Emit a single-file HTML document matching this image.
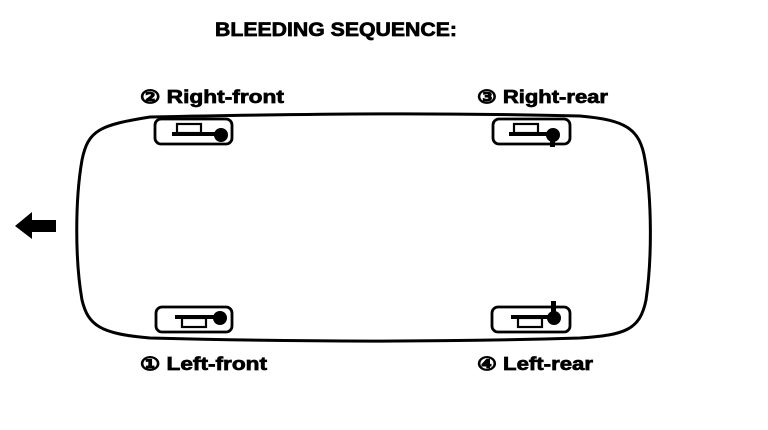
<!DOCTYPE html>
<html><head><meta charset="utf-8"><style>
html,body{margin:0;padding:0;background:#fff;}
svg{display:block}
text{font-family:"Liberation Sans",Arial,sans-serif;font-weight:bold;fill:#000;stroke:#000;stroke-width:0.7}
</style></head><body>
<svg width="768" height="430" viewBox="0 0 768 430" xmlns="http://www.w3.org/2000/svg">
<text x="215" y="36" font-size="19" textLength="242" lengthAdjust="spacingAndGlyphs">BLEEDING SEQUENCE:</text>
<text x="140" y="103" font-size="18" textLength="144" lengthAdjust="spacingAndGlyphs">② Right-front</text>
<text x="477" y="103" font-size="18" textLength="131" lengthAdjust="spacingAndGlyphs">③ Right-rear</text>
<text x="140" y="370" font-size="18" textLength="127" lengthAdjust="spacingAndGlyphs">① Left-front</text>
<text x="477" y="370" font-size="18" textLength="116" lengthAdjust="spacingAndGlyphs">④ Left-rear</text>
<path d="M150 117 C 350 113, 450 113, 580 116 C 625 120, 640 128, 645 160 C 652 200, 652 260, 646 300 C 640 330, 625 335, 580 338 C 450 342, 300 342, 150 338 C 100 334, 88 325, 82 300 C 75 260, 75 200, 82 160 C 88 130, 100 125, 150 117 Z" fill="none" stroke="#000" stroke-width="3"/>
<polygon points="15,226 32,212 32,220 56,220 56,232 32,232 32,239" fill="#000"/>
<g fill="none" stroke="#000" stroke-width="2.8">
<rect x="155" y="119" width="77" height="25" rx="6" fill="#fff"/>
<rect x="493" y="119" width="77" height="25" rx="6" fill="#fff"/>
<rect x="156" y="307" width="76" height="25" rx="6" fill="#fff"/>
<rect x="492" y="307" width="78" height="25" rx="6" fill="#fff"/>
</g>
<g fill="none" stroke="#000" stroke-width="2.2">
<rect x="177" y="124" width="24" height="9"/>
<rect x="514" y="124" width="24" height="9"/>
<rect x="182" y="318" width="24" height="9"/>
<rect x="518" y="318" width="24" height="9"/>
</g>
<g fill="#000">
<rect x="172" y="132" width="44" height="4"/>
<circle cx="221" cy="135" r="7"/>
<rect x="509" y="132" width="44" height="4"/>
<circle cx="553" cy="135" r="7"/>
<rect x="550" y="135" width="5" height="12"/>
<rect x="175" y="315" width="40" height="4"/>
<circle cx="220" cy="318" r="7"/>
<rect x="511" y="315" width="40" height="4"/>
<circle cx="554" cy="318" r="7"/>
<rect x="551" y="301" width="5" height="12"/>
</g>
</svg>
</body></html>
